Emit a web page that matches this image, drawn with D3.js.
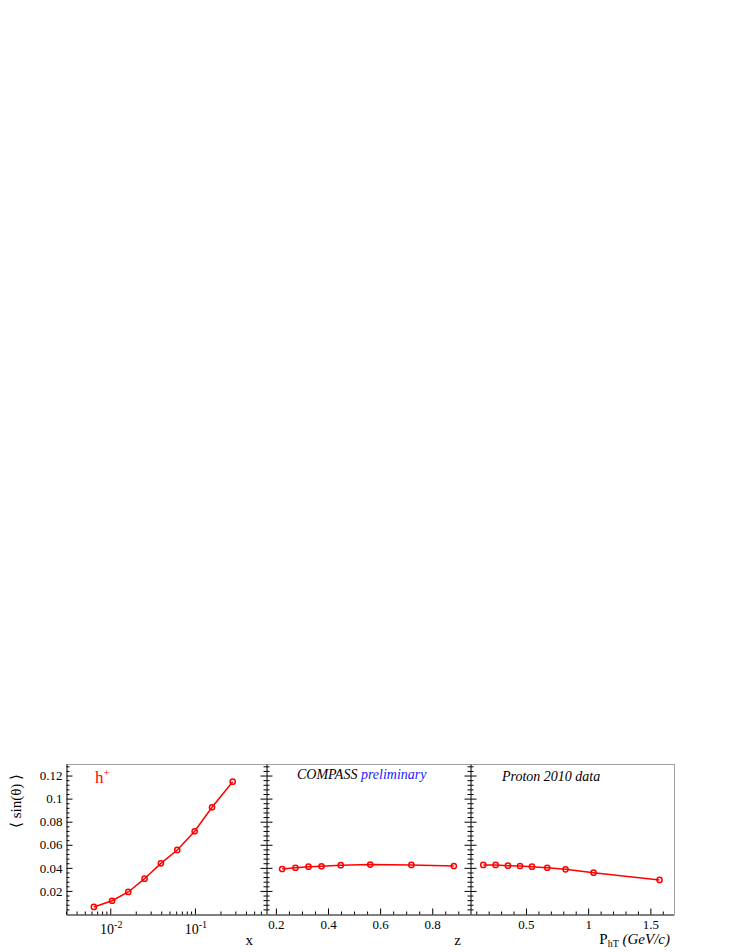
<!DOCTYPE html>
<html>
<head>
    <meta charset="utf-8">
    <title></title>
    <script src="https://d3js.org/d3.v7.min.js"></script>
    <style>
        html, body { margin: 0; padding: 0; background: white; }
        svg { display: block; }
        text { font-family: "Liberation Serif", "Times New Roman", serif; }
    </style>
</head>
<body>
    <div id="chart"></div>
    <script>
        // Panel 1: asymmetry vs x (log scale)
        const xBins = [0.0064, 0.0105, 0.0163, 0.0254, 0.0396, 0.0618, 0.0992, 0.159, 0.279];
        const xAsym = [0.0061, 0.0115, 0.0191, 0.0306, 0.0439, 0.0555, 0.0717, 0.0925, 0.1147];

        // Panel 2: asymmetry vs z
        const zBins = [0.224, 0.275, 0.325, 0.375, 0.449, 0.562, 0.72, 0.883];
        const zAsym = [0.039, 0.0401, 0.041, 0.0414, 0.0423, 0.0428, 0.0425, 0.0416];

        // Panel 3: asymmetry vs PhT
        const ptBins = [0.157, 0.256, 0.355, 0.452, 0.548, 0.671, 0.818, 1.043, 1.574];
        const ptAsym = [0.0425, 0.0425, 0.0419, 0.0416, 0.041, 0.0401, 0.0387, 0.0358, 0.0295];

        // tick labels
        const yTicks = [0.02, 0.04, 0.06, 0.08, 0.1, 0.12];
        const yTickLabels = ["0.02", "0.04", "0.06", "0.08", "0.1", "0.12"];
        const xLogTicks = [0.01, 0.1];
        const xLogLabels = [["10", "-2"], ["10", "-1"]];
        const zTicks = [0.2, 0.4, 0.6, 0.8];
        const zTickLabels = ["0.2", "0.4", "0.6", "0.8"];
        const ptTicks = [0.5, 1, 1.5];
        const ptTickLabels = ["0.5", "1", "1.5"];

        const W = 736, H = 952;
        const plotTop = 764, plotBottom = 914;
        const edges = [66, 266, 470, 674];
        const red = "#ff0000";
        const tickFont = "13px";

        const svg = d3.select("#chart").append("svg")
            .attr("width", W)
            .attr("height", H);

        svg.append("rect").attr("width", W).attr("height", H).attr("fill", "white");

        const yScale = d3.scaleLinear().domain([0, 0.13]).range([plotBottom, plotTop]);

        const xScale = d3.scaleLog().domain([0.003, 0.69]).range([edges[0], edges[1]]);
        const zScale = d3.scaleLinear().domain([0.162, 0.945]).range([edges[1], edges[2]]);
        const ptScale = d3.scaleLinear().domain([0.05, 1.69]).range([edges[2], edges[3]]);

        // frame: gray top and right border
        svg.append("line")
            .attr("x1", edges[0]).attr("x2", edges[3])
            .attr("y1", plotTop + 0.5).attr("y2", plotTop + 0.5)
            .attr("stroke", "#a0a0a0").attr("stroke-width", 1);
        svg.append("line")
            .attr("x1", edges[3] + 0.5).attr("x2", edges[3] + 0.5)
            .attr("y1", plotTop).attr("y2", plotBottom)
            .attr("stroke", "#a0a0a0").attr("stroke-width", 1);

        // minor y ticks every 0.004
        const yMinor = d3.range(0.004, 0.1301, 0.004).filter(v => Math.abs(v / 0.02 - Math.round(v / 0.02)) > 1e-6);

        function styleAxis(g) {
            g.attr("font-family", null);
            g.select(".domain").attr("stroke", "black");
            g.selectAll(".tick line").attr("stroke", "black");
            g.selectAll(".tick text").attr("fill", "black").style("font-size", tickFont);
        }

        // left axes of each panel (ticks pointing into the panel)
        [0, 1, 2].forEach(i => {
            const g = svg.append("g").attr("transform", `translate(${edges[i] + 0.5},0)`);
            g.call(d3.axisLeft(yScale).tickValues(yTicks)
                .tickSizeInner(-6).tickSizeOuter(0).tickPadding(4)
                .tickFormat((d, j) => i === 0 ? yTickLabels[j] : ""));
            g.call(styleAxis);
            const gm = svg.append("g").attr("transform", `translate(${edges[i] + 0.5},0)`);
            gm.call(d3.axisLeft(yScale).tickValues(yMinor).tickSizeInner(-3).tickSizeOuter(0).tickFormat(""));
            gm.call(styleAxis);
            gm.select(".domain").remove();
        });

        // right-side ticks of panels 1 and 2
        [1, 2].forEach(i => {
            const g = svg.append("g").attr("transform", `translate(${edges[i] + 0.5},0)`);
            g.call(d3.axisRight(yScale).tickValues(yTicks).tickSizeInner(-6).tickSizeOuter(0).tickFormat(""));
            g.call(styleAxis);
            g.select(".domain").remove();
            const gm = svg.append("g").attr("transform", `translate(${edges[i] + 0.5},0)`);
            gm.call(d3.axisRight(yScale).tickValues(yMinor).tickSizeInner(-3).tickSizeOuter(0).tickFormat(""));
            gm.call(styleAxis);
            gm.select(".domain").remove();
        });

        // bottom axes
        function bottomAxis(scale, major, labels, minor) {
            const g = svg.append("g").attr("transform", `translate(0,${plotBottom + 0.5})`);
            g.call(d3.axisBottom(scale).tickValues(major)
                .tickSizeInner(-6).tickSizeOuter(0).tickPadding(5)
                .tickFormat((d, j) => labels ? labels[j] : ""));
            g.call(styleAxis);
            const gm = svg.append("g").attr("transform", `translate(0,${plotBottom + 0.5})`);
            gm.call(d3.axisBottom(scale).tickValues(minor).tickSizeInner(-3).tickSizeOuter(0).tickFormat(""));
            gm.call(styleAxis);
            gm.select(".domain").remove();
            return g;
        }

        const xMinor = [];
        [0.001, 0.01, 0.1].forEach(dec => {
            for (let k = 2; k <= 9; k++) {
                const v = k * dec;
                if (v >= 0.003 && v <= 0.69) xMinor.push(v);
            }
        });
        bottomAxis(xScale, xLogTicks, null, xMinor);
        // log tick labels with superscripts
        xLogTicks.forEach((v, j) => {
            const t = svg.append("text")
                .attr("x", xScale(v) + 1)
                .attr("y", plotBottom + 20)
                .attr("text-anchor", "middle")
                .style("font-size", "14px")
                .attr("fill", "black");
            t.append("tspan").text(xLogLabels[j][0]);
            t.append("tspan").attr("dy", -6).style("font-size", "10px").text(xLogLabels[j][1]);
        });

        const zMinor = d3.range(0.2, 0.95, 0.05).filter(v => Math.abs(v * 5 - Math.round(v * 5)) > 1e-6);
        bottomAxis(zScale, zTicks, zTickLabels, zMinor);

        const ptMinor = d3.range(0.1, 1.7, 0.1).filter(v => Math.abs(v * 2 - Math.round(v * 2)) > 1e-6);
        bottomAxis(ptScale, ptTicks, ptTickLabels, ptMinor);

        // data series
        const series = [
            { scale: xScale, xs: xBins, ys: xAsym },
            { scale: zScale, xs: zBins, ys: zAsym },
            { scale: ptScale, xs: ptBins, ys: ptAsym },
        ];

        series.forEach(s => {
            const pts = s.xs.map((v, i) => [v, s.ys[i]]);
            const line = d3.line()
                .x(d => s.scale(d[0]))
                .y(d => yScale(d[1]));
            svg.append("path")
                .datum(pts)
                .attr("fill", "none")
                .attr("stroke", red)
                .attr("stroke-width", 1.5)
                .attr("d", line);
            svg.append("g").selectAll("circle")
                .data(pts)
                .enter()
                .append("circle")
                .attr("cx", d => s.scale(d[0]))
                .attr("cy", d => yScale(d[1]))
                .attr("r", 2.6)
                .attr("fill", "none")
                .attr("stroke", red)
                .attr("stroke-width", 1.5);
        });

        // axis titles
        svg.append("text")
            .attr("transform", "translate(21,801) rotate(-90)")
            .attr("text-anchor", "middle")
            .style("font-size", "15px")
            .attr("fill", "black")
            .text("\u27E8 sin(\u03B8) \u27E9");

        svg.append("text")
            .attr("x", 253).attr("y", 945)
            .attr("text-anchor", "end")
            .style("font-size", "15px")
            .text("x");

        svg.append("text")
            .attr("x", 461).attr("y", 945)
            .attr("text-anchor", "end")
            .style("font-size", "15px")
            .text("z");

        const ptTitle = svg.append("text")
            .attr("x", 670).attr("y", 944)
            .attr("text-anchor", "end")
            .style("font-size", "15px");
        ptTitle.append("tspan").text("P");
        ptTitle.append("tspan").attr("dy", 3).style("font-size", "10px").text("hT");
        ptTitle.append("tspan").attr("dy", -3).style("font-style", "italic").text(" (GeV/c)");

        // panel labels
        const hLabel = svg.append("text")
            .attr("x", 95).attr("y", 783)
            .attr("fill", red)
            .style("font-size", "17px");
        hLabel.append("tspan").text("h");
        hLabel.append("tspan").attr("dy", -7).style("font-size", "11px").text("+");

        const compass = svg.append("text")
            .attr("x", 297).attr("y", 779)
            .style("font-size", "14px")
            .style("font-style", "italic");
        compass.append("tspan").attr("fill", "black").text("COMPASS ");
        compass.append("tspan").attr("fill", "#1a1aff").text("preliminary");

        svg.append("text")
            .attr("x", 502).attr("y", 781)
            .style("font-size", "14px")
            .style("font-style", "italic")
            .attr("fill", "black")
            .text("Proton 2010 data");
    </script>
</body>
</html>
